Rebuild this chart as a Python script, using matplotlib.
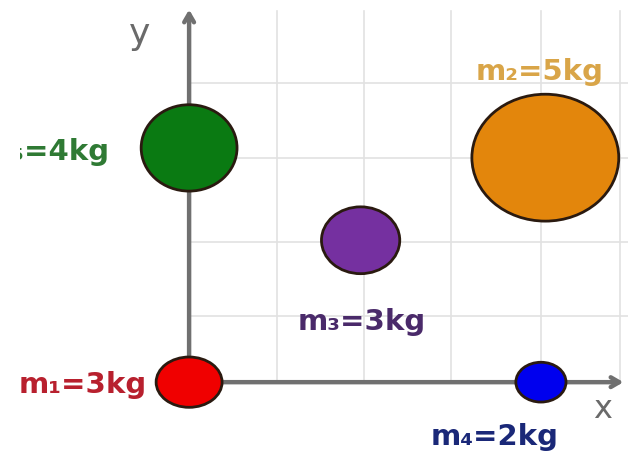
import matplotlib
matplotlib.use('Agg')
import matplotlib.pyplot as plt
from matplotlib.patches import Ellipse, Rectangle

# Data (grid units: 1 cell across, 1 cell up)
names = ['m\u2081=3kg', 'm\u2085=4kg', 'm\u2082=5kg', 'm\u2083=3kg', 'm\u2084=2kg']
xpos = [0.0, 0.0, 4.05, 1.95, 4.0]
ypos = [0.0, 3.12, 2.99, 1.89, 0.0]
widths = [0.75, 1.09, 1.67, 0.89, 0.57]
heights = [0.67, 1.15, 1.69, 0.89, 0.53]
fills = ['#f00000', '#0a7a12', '#e3860c', '#7530a0', '#0000ee']
label_cols = ['#b8202e', '#2f7a34', '#d9a548', '#4a2a6a', '#1a2878']
# label anchor points and alignment
lab_x = [-0.48, -0.9, 3.99, 1.96, 3.47]
lab_y = [-0.04, 3.06, 4.13, 0.8, -0.73]
lab_ha = ['right', 'right', 'center', 'center', 'center']

grid_xpos = [0.0, 1.0, 1.99, 2.98, 4.0, 4.9]
grid_ypos = [0.0, 0.88, 1.87, 2.99, 3.99]

fig = plt.figure(figsize=(6.28, 4.58), dpi=100)
ax = fig.add_axes([0, 0, 1, 1])
ax.set_xlim(-2.15, 4.99)
ax.set_ylim(-1.01, 5.09)
ax.axis('off')

# light grid in first quadrant
for gx in grid_xpos[1:]:
    ax.plot([gx, gx], [0, 4.95], color='#e2e2e2', lw=1.2, zorder=1)
for gy in grid_ypos[1:]:
    ax.plot([0, 4.99], [gy, gy], color='#e2e2e2', lw=1.2, zorder=1)

# axes with arrows
ax.annotate('', xy=(0, 5.0), xytext=(0, 0),
            arrowprops=dict(arrowstyle='->,head_length=0.6,head_width=0.35',
                            color='#707070', lw=3.2), zorder=2)
ax.annotate('', xy=(4.97, 0.0), xytext=(0, 0),
            arrowprops=dict(arrowstyle='->,head_length=0.6,head_width=0.35',
                            color='#707070', lw=3.2), zorder=2)
ax.text(-0.56, 4.64, 'y', fontsize=26, color='#6a6a6a', ha='center', va='center')
ax.text(4.7, -0.36, 'x', fontsize=23, color='#6a6a6a', ha='center', va='center')

for i in range(len(names)):
    e = Ellipse((xpos[i], ypos[i]), widths[i], heights[i], facecolor=fills[i],
                edgecolor='#2a1a10', lw=2, zorder=3)
    ax.add_patch(e)
    ax.text(lab_x[i], lab_y[i], names[i], color=label_cols[i], fontsize=21,
            fontweight='bold', ha=lab_ha[i], va='center', zorder=4)

# white strip on the left edge (the source picture is cropped there)
ax.add_patch(Rectangle((0, 0), 20 / 628, 1, transform=ax.transAxes,
                       facecolor='white', edgecolor='none', zorder=10))

fig.savefig('out.png', dpi=100)
